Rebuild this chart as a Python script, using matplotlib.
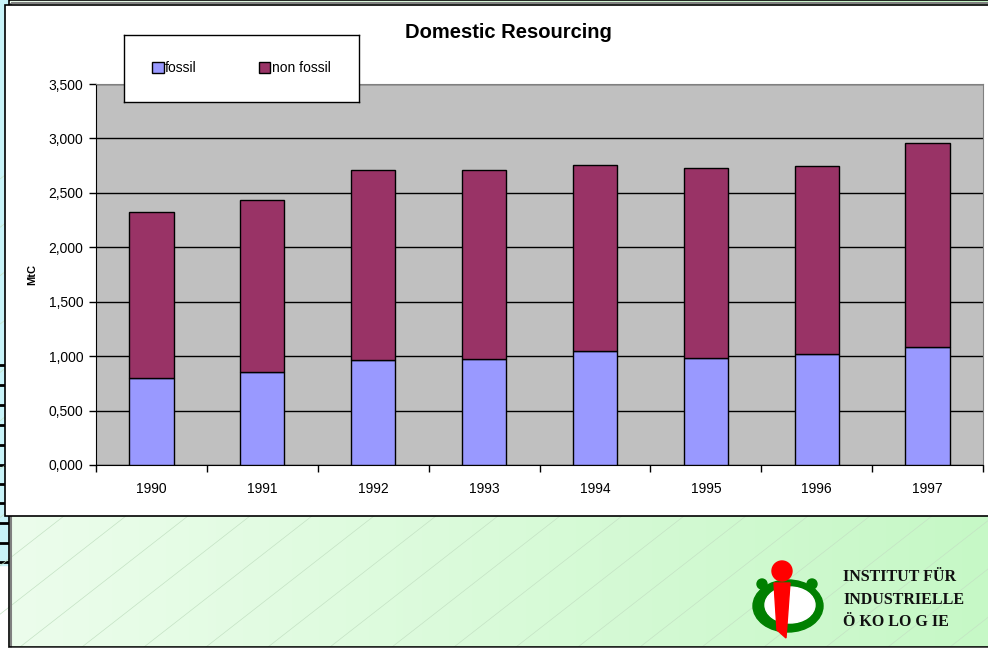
import numpy as np
import matplotlib
matplotlib.use("Agg")
import matplotlib.pyplot as plt
from matplotlib.patches import Rectangle, Ellipse, Circle, Polygon

years = ["1990", "1991", "1992", "1993", "1994", "1995", "1996", "1997"]
fossil = [798, 850, 960, 973, 1050, 985, 1020, 1082]
non_fossil = [1526, 1585, 1750, 1737, 1710, 1745, 1728, 1873]
y_ticks = [0, 500, 1000, 1500, 2000, 2500, 3000, 3500]
y_tick_labels = ["0,000", "0,500", "1,000", "1,500", "2,000", "2,500", "3,000", "3,500"]

W, H = 988, 650
plt.rcParams["font.family"] = ["Liberation Sans", "DejaVu Sans"]

fig = plt.figure(figsize=(W / 100, H / 100), dpi=100)

# background slide, drawn in pixel coordinates
bg = fig.add_axes([0, 0, 1, 1])
bg.set_xlim(0, W)
bg.set_ylim(H, 0)
bg.axis("off")

# cyan strip on the far left
bg.add_patch(Rectangle((0, 0), 9, 565, color="#c8f3f8", zorder=0))
for yy in [365, 385, 405, 425, 445, 465, 484, 503, 523, 543, 562]:
    bg.plot([0, 8], [yy, yy], color="black", lw=2, zorder=1)

# green gradient panel with faint diagonal lines
grad = np.linspace(0, 1, 256)[None, :]
cmap = matplotlib.colors.LinearSegmentedColormap.from_list("g", ["#ecfdec", "#c6f8c6"])
bg.imshow(grad, cmap=cmap, extent=(9, W, 647, 0), aspect="auto", zorder=1)
for x0 in np.arange(-600, W, 62):
    bg.plot([x0, x0 + 800], [647, 647 - 800 * 0.78], color="#c4e2c4", lw=0.5, zorder=2)
bg.add_patch(Rectangle((11, 3), W, 646, fill=False, ec="#808080", lw=1.5, zorder=2))
bg.add_patch(Rectangle((9, 0), W, 647, fill=False, ec="black", lw=1.2, zorder=3))
bg.add_patch(Rectangle((9, 647.5), W, 3, color="white", zorder=3))

# white chart box
bg.add_patch(Rectangle((5, 4.5), W, 511, fc="white", ec="black", lw=1.2, zorder=4))

# logo
bg.add_patch(Ellipse((788, 606), 70, 52, color="#008000", zorder=5))
bg.add_patch(Ellipse((790, 605), 50, 36, color="white", zorder=6))
bg.add_patch(Circle((762, 584), 5, color="#008000", zorder=6))
bg.add_patch(Circle((812, 584), 5, color="#008000", zorder=6))
bg.add_patch(Polygon([(774, 583), (790, 583), (786, 638), (777, 630)], color="#ff0000", zorder=7))
bg.add_patch(Circle((782, 571), 10, color="#ff0000", zorder=7))
for txt, yy in [("INSTITUT FÜR", 577), ("INDUSTRIELLE", 600), ("Ö KO LO G IE", 622)]:
    bg.text(843, yy, txt, family="Liberation Serif", weight="bold", fontsize=11.5,
            va="center", ha="left", color="#111111", zorder=8)

# chart plot area
px0, px1, py0, py1 = 96, 983, 84, 465
ax = fig.add_axes([px0 / W, 1 - py1 / H, (px1 - px0) / W, (py1 - py0) / H])
ax.set_facecolor("#c0c0c0")
x = np.arange(len(years))
ax.bar(x, fossil, width=0.4, color="#9999ff", edgecolor="black", lw=1, zorder=3, label="fossil")
ax.bar(x, non_fossil, width=0.4, bottom=fossil, color="#993366", edgecolor="black", lw=1,
       zorder=3, label="non fossil")
ax.set_xlim(-0.5, len(years) - 0.5)
ax.set_ylim(0, 3500)
ax.set_yticks(y_ticks)
ax.set_yticklabels(y_tick_labels, fontsize=10)
ax.yaxis.grid(True, color="black", lw=1, zorder=1)
ax.set_axisbelow(True)
ax.set_xticks(x)
ax.set_xticklabels(years, fontsize=10)
ax.set_xticks(np.arange(-0.5, len(years)), minor=True)
ax.tick_params(axis="x", which="major", length=0, pad=12)
ax.tick_params(axis="x", which="minor", length=5, width=1, direction="out")
ax.tick_params(axis="y", length=5, width=1, direction="out", pad=4)
for side in ["top", "right"]:
    ax.spines[side].set_color("#808080")
for side in ["left", "bottom"]:
    ax.spines[side].set_color("black")
ax.set_ylabel("MtC", fontsize=8, weight="bold")
ax.yaxis.set_label_coords((37 - px0) / (px1 - px0), 0.5)

fig.text(508 / W, 1 - 33 / H, "Domestic Resourcing", ha="center", va="center",
         fontsize=14.5, weight="bold")

# legend box overlapping plot top
lax = fig.add_axes([124 / W, 1 - 102 / H, (359 - 124) / W, (102 - 35) / H])
lax.set_xticks([])
lax.set_yticks([])
lax.set_facecolor("white")
for s in lax.spines.values():
    s.set_color("black")
    s.set_linewidth(1)
handles, labels = ax.get_legend_handles_labels()
lax.legend(handles, labels, loc="center", ncol=2, frameon=False, fontsize=10,
           handlelength=0.8, handleheight=0.8, handletextpad=0.1, columnspacing=4.5)

fig.savefig("out.png", dpi=100)
